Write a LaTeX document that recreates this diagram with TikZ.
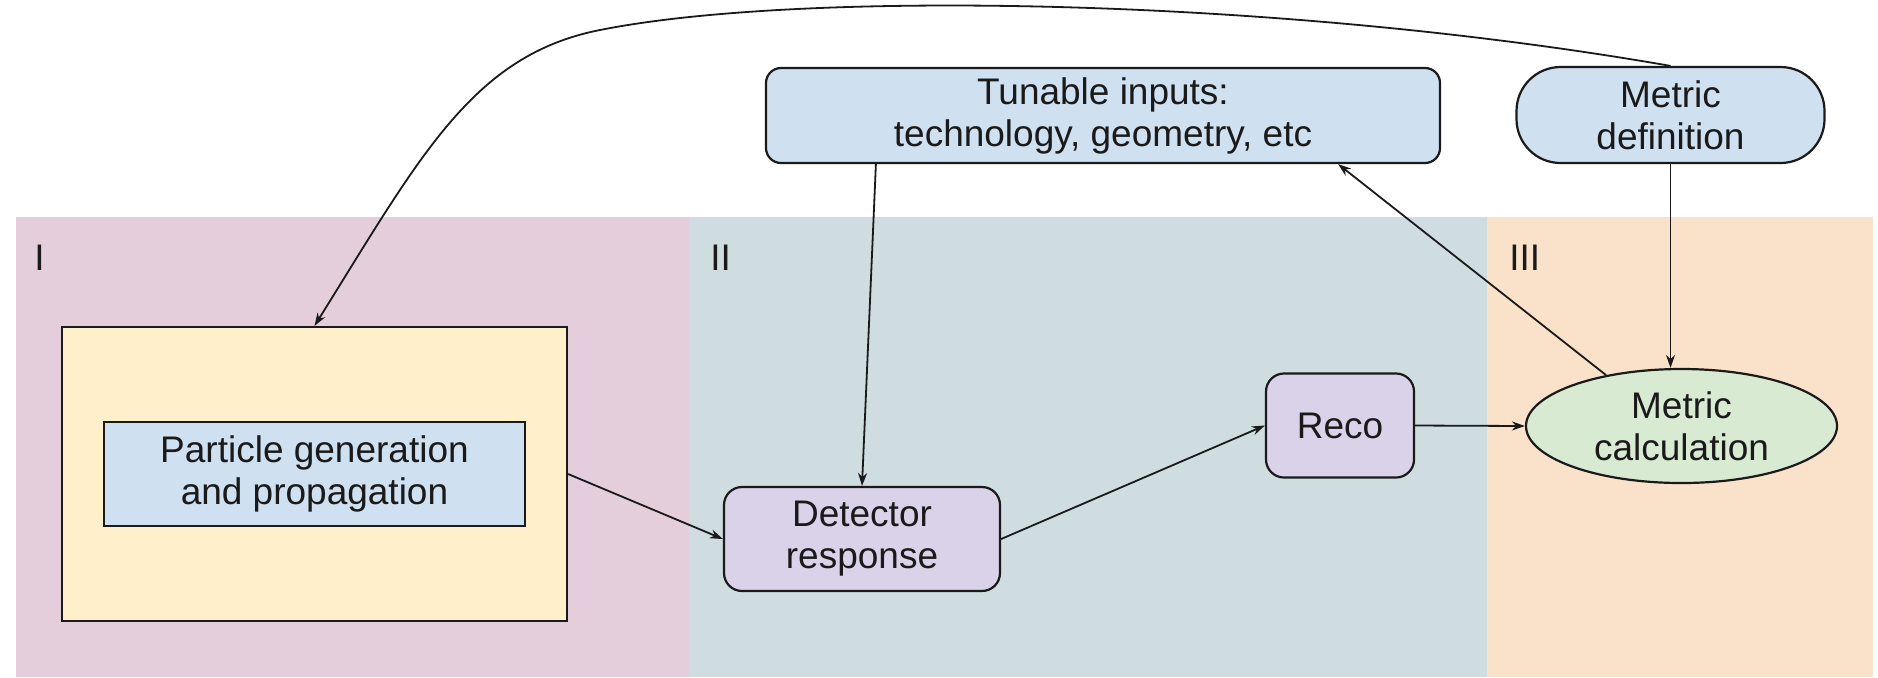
\documentclass[tikz,border=0pt]{standalone}
\usepackage{fontspec}
\setmainfont{Liberation Sans}
\usepackage{xcolor}
\usepackage{tikz}
\usetikzlibrary{shapes.geometric, arrows.meta, positioning, calc}
\definecolor{regone}{HTML}{E5CEDB}
\definecolor{regtwo}{HTML}{CFDDE1}
\definecolor{regthree}{HTML}{F9E1CA}
\definecolor{boxblue}{HTML}{CFE0F1}
\definecolor{boxyellow}{HTML}{FFEFCB}
\definecolor{boxpurple}{HTML}{D9D2E9}
\definecolor{boxgreen}{HTML}{D9EAD3}
\definecolor{inkdark}{HTML}{1A1A1A}

\begin{document}
\begin{tikzpicture}[
  x=0.5pt, y=-0.5pt,
  every node/.style={font=\fontsize{18.5}{21}\selectfont, text=inkdark},
  region/.style={anchor=west, inner sep=0pt},
  genbox/.style={rectangle, draw=inkdark, fill=boxyellow, line width=1.1pt,
                 minimum width=252.5pt, minimum height=147pt},
  inbox/.style={rectangle, draw=inkdark, fill=boxblue, line width=1.1pt,
                minimum width=210.5pt, minimum height=52pt, align=center},
  tunebox/.style={rectangle, draw=inkdark, fill=boxblue, line width=1.1pt,
                  rounded corners=7.5pt, minimum width=337pt,
                  minimum height=47.5pt, align=center},
  stepbox/.style={rectangle, draw=inkdark, fill=boxpurple, line width=1.1pt,
                  rounded corners=9pt, minimum height=52pt, align=center},
  metricdef/.style={rectangle, draw=inkdark, fill=boxblue, line width=1.1pt,
                    rounded corners=22pt, minimum width=154pt,
                    minimum height=48pt, align=center},
  metriccalc/.style={ellipse, draw=inkdark, fill=boxgreen, line width=1.1pt,
                     minimum width=155.5pt, minimum height=57pt,
                     inner sep=0pt, align=center},
  flow/.style={-{Stealth[length=6.5pt, width=4.5pt]}, line width=0.9pt, draw=inkdark},
]

\useasboundingbox (0,0) rectangle (1878,677);

% Regions
\fill[regone]   (16,217)   rectangle (689,677);
\fill[regtwo]   (689,217)  rectangle (1487,677);
\fill[regthree] (1487,217) rectangle (1873,677);
\node[region] (rI)   at (34,258)   {I};
\node[region] (rII)  at (710,258)  {II};
\node[region] (rIII) at (1509,258) {III};

% Blocks
\node[genbox] (gen) at (314.5,474) {};
\node[inbox] (part) at (314.5,474) {Particle generation\\and propagation};
\node[stepbox, minimum width=138pt] (det) at (862,539) {Detector\\response};
\node[stepbox, minimum width=74pt] (reco) at (1340,425.5) {Reco};
\node[metriccalc] (calc) at (1681.5,426) {Metric\\calculation};
\node[tunebox] (tune) at (1103,115.5) {Tunable inputs:\\technology, geometry, etc};
\node[metricdef] (mdef) at (1670.5,115) {Metric\\definition};

% Flows
\draw[flow] (gen.east) -- (det.west);
\draw[flow] (det.east) -- (reco.west);
\draw[flow] (reco.east) -- (calc.west);
\draw[flow] ([xshift=55.5pt]tune.south west) -- (det.north);
\draw[flow] (calc.146) -- ([xshift=-51.5pt]tune.south east);
\draw[flow] (mdef.south) -- (mdef.south |- calc.north);
\draw[flow] (mdef.north) .. controls (1276,-3) and (800,-10) .. (600,30)
            .. controls (473,55) and (421,155) .. (gen.north);

\end{tikzpicture}
\end{document}
